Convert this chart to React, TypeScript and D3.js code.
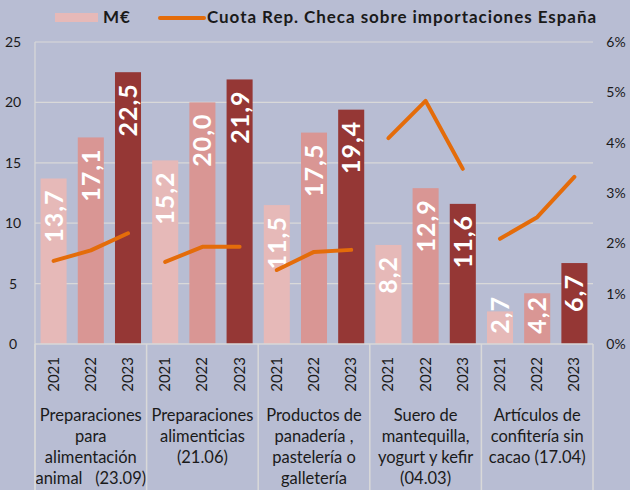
import React, { useEffect, useRef } from "react";
import * as d3 from "d3";

const groups = [
  ["Preparaciones", "para", "alimentación", "animal   (23.09)"],
  ["Preparaciones", "alimenticias", "(21.06)"],
  ["Productos de", "panadería ,", "pastelería o", "galletería"],
  ["Suero de", "mantequilla,", "yogurt y kefir", "(04.03)"],
  ["Artículos de", "confitería sin", "cacao (17.04)"],
];
const years = ["2021", "2022", "2023"];
const values = [
  [13.7, 17.1, 22.5],
  [15.2, 20.0, 21.9],
  [11.5, 17.5, 19.4],
  [8.2, 12.9, 11.6],
  [2.7, 4.2, 6.7],
];
const shares = [
  [1.65, 1.86, 2.2],
  [1.63, 1.93, 1.93],
  [1.47, 1.83, 1.87],
  [4.09, 4.83, 3.48],
  [2.09, 2.52, 3.32],
];
const leftTicks = [0, 5, 10, 15, 20, 25];
const rightTicks = [0, 1, 2, 3, 4, 5, 6];

const barColors = ["#E6B9B8", "#D99694", "#953735"];
const FONT = "Lato, 'Open Sans', sans-serif";

function App() {
  const ref = useRef<SVGSVGElement>(null);

  useEffect(() => {
    const svg = d3.select(ref.current);
    svg.selectAll("*").remove();

    const width = 630;
    const height = 490;
    const left = 35;
    const right = 593;
    const top = 42;
    const bottom = 344;

    svg.append("rect").attr("width", width).attr("height", height).attr("fill", "#B8BDD3");

    const y = d3.scaleLinear().domain([0, 25]).range([bottom, top]);
    const yr = d3.scaleLinear().domain([0, 6]).range([bottom, top]);
    const x0 = d3.scaleBand<number>().domain(d3.range(groups.length)).range([left, right]);
    const x1 = d3
      .scaleBand<string>()
      .domain(years)
      .range([0, x0.bandwidth()])
      .paddingInner(0.3)
      .paddingOuter(0.15);

    // gridlines
    svg
      .append("g")
      .selectAll("line")
      .data(leftTicks.slice(1))
      .enter()
      .append("line")
      .attr("x1", left)
      .attr("x2", right)
      .attr("y1", (d) => y(d))
      .attr("y2", (d) => y(d))
      .attr("stroke", "#D9D9D9")
      .attr("stroke-width", 1.2);

    // left axis line
    svg
      .append("line")
      .attr("x1", left)
      .attr("x2", left)
      .attr("y1", top)
      .attr("y2", height)
      .attr("stroke", "#D9D9D9")
      .attr("stroke-width", 1.2);

    // axis labels
    svg
      .append("g")
      .selectAll("text")
      .data(leftTicks)
      .enter()
      .append("text")
      .attr("x", 13)
      .attr("y", (d) => y(d) + 5)
      .attr("text-anchor", "middle")
      .style("font-family", FONT)
      .style("font-size", "14px")
      .attr("fill", "#1a1a1a")
      .text((d) => d);

    svg
      .append("g")
      .selectAll("text")
      .data(rightTicks)
      .enter()
      .append("text")
      .attr("x", 616)
      .attr("y", (d) => yr(d) + 5)
      .attr("text-anchor", "middle")
      .style("font-family", FONT)
      .style("font-size", "14px")
      .attr("fill", "#1a1a1a")
      .text((d) => d + "%");

    const g = svg
      .append("g")
      .selectAll("g")
      .data(groups)
      .enter()
      .append("g")
      .attr("transform", (_, i) => `translate(${x0(i)},0)`);

    // bars
    g.selectAll("rect")
      .data((_, i) => values[i].map((v, j) => ({ v, j })))
      .enter()
      .append("rect")
      .attr("x", (d) => x1(years[d.j])!)
      .attr("width", x1.bandwidth())
      .attr("y", (d) => y(d.v))
      .attr("height", (d) => bottom - y(d.v))
      .attr("fill", (d) => barColors[d.j]);

    // bar labels
    g.selectAll("text.val")
      .data((_, i) => values[i].map((v, j) => ({ v, j })))
      .enter()
      .append("text")
      .attr("class", "val")
      .attr("transform", (d) => {
        const cx = x1(years[d.j])! + x1.bandwidth() / 2 + 9;
        const ty = Math.min(y(d.v) + 11, bottom - 48);
        return `translate(${cx},${ty}) rotate(-90)`;
      })
      .attr("text-anchor", "end")
      .style("font-family", FONT)
      .style("font-size", "25px")
      .style("font-weight", "bold")
      .style("letter-spacing", "1px")
      .attr("fill", "#ffffff")
      .text((d) => d3.format(".1f")(d.v).replace(".", ","));

    // separators
    svg
      .append("line")
      .attr("x1", left)
      .attr("x2", right)
      .attr("y1", bottom)
      .attr("y2", bottom)
      .attr("stroke", "#D9D9D9")
      .attr("stroke-width", 1.5);
    svg
      .append("g")
      .selectAll("line")
      .data(d3.range(groups.length + 1))
      .enter()
      .append("line")
      .attr("x1", (i) => left + i * x0.step())
      .attr("x2", (i) => left + i * x0.step())
      .attr("y1", bottom)
      .attr("y2", height)
      .attr("stroke", "#D9D9D9")
      .attr("stroke-width", 1.5);

    // year tick labels
    g.selectAll("text.year")
      .data(years)
      .enter()
      .append("text")
      .attr("class", "year")
      .attr("transform", (d) => `translate(${x1(d)! + x1.bandwidth() / 2 + 5},${357}) rotate(-90)`)
      .attr("text-anchor", "end")
      .style("font-family", FONT)
      .style("font-size", "15px")
      .attr("fill", "#1a1a1a")
      .text((d) => d);

    // group labels
    g.each(function (lines) {
      const t = d3
        .select(this)
        .append("text")
        .attr("text-anchor", "middle")
        .style("font-family", FONT)
        .style("font-size", "16.5px")
        .attr("fill", "#1a1a1a");
      lines.forEach((l, k) => {
        t.append("tspan")
          .attr("x", x0.bandwidth() / 2)
          .attr("y", 421 + k * 21)
          .style("white-space", "pre")
          .text(l);
      });
    });

    // share lines
    const line = d3
      .line<{ s: number; j: number }>()
      .x((d) => x1(years[d.j])! + x1.bandwidth() / 2)
      .y((d) => yr(d.s));
    g.append("path")
      .attr("d", (_, i) => line(shares[i].map((s, j) => ({ s, j }))))
      .attr("fill", "none")
      .attr("stroke", "#E46C0A")
      .attr("stroke-width", 4)
      .attr("stroke-linecap", "round")
      .attr("stroke-linejoin", "round");

    // legend
    svg
      .append("rect")
      .attr("x", 55)
      .attr("y", 13)
      .attr("width", 43)
      .attr("height", 9)
      .attr("fill", barColors[0]);
    svg
      .append("text")
      .attr("x", 103)
      .attr("y", 23)
      .style("font-family", FONT)
      .style("font-size", "17px")
      .style("font-weight", "bold")
      .style("letter-spacing", "1px")
      .attr("fill", "#1a1a1a")
      .text("M€");
    svg
      .append("line")
      .attr("x1", 160)
      .attr("x2", 204)
      .attr("y1", 18)
      .attr("y2", 18)
      .attr("stroke", "#E46C0A")
      .attr("stroke-width", 4)
      .attr("stroke-linecap", "round");
    svg
      .append("text")
      .attr("x", 207)
      .attr("y", 23)
      .style("font-family", FONT)
      .style("font-size", "17px")
      .style("font-weight", "bold")
      .style("letter-spacing", "0.95px")
      .attr("fill", "#1a1a1a")
      .text("Cuota Rep. Checa sobre importaciones España");
  }, []);

  return (
    <div style={{ position: "absolute", left: 0, top: 0 }}>
      <svg ref={ref} width={630} height={490} style={{ display: "block" }}></svg>
    </div>
  );
}

export default App;
